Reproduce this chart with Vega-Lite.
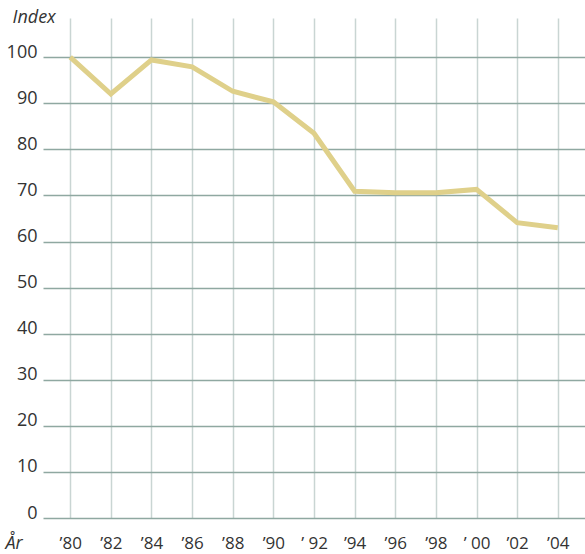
{
  "$schema": "https://vega.github.io/schema/vega-lite/v6.json",
  "width": 542,
  "height": 500,
  "autosize": {"type": "none"},
  "padding": {"left": 43, "top": 18, "right": 0, "bottom": 36},
  "background": "white",
  "config": {"view": {"stroke": null}, "font": "Open Sans"},
  "data": {"values": [
    {"year": 1980, "label": "’80", "index": 100},
    {"year": 1982, "label": "’82", "index": 92.0},
    {"year": 1984, "label": "’84", "index": 99.4},
    {"year": 1986, "label": "’86", "index": 97.9},
    {"year": 1988, "label": "’88", "index": 92.6},
    {"year": 1990, "label": "’90", "index": 90.3},
    {"year": 1992, "label": "’ 92", "index": 83.5},
    {"year": 1994, "label": "’94", "index": 70.9},
    {"year": 1996, "label": "’96", "index": 70.6},
    {"year": 1998, "label": "’98", "index": 70.6},
    {"year": 2000, "label": "’ 00", "index": 71.3},
    {"year": 2002, "label": "’02", "index": 64.1},
    {"year": 2004, "label": "’04", "index": 63.0}
  ]},
  "mark": {"type": "line", "color": "#dfd08a", "strokeWidth": 5, "strokeJoin": "miter"},
  "encoding": {
    "x": {
      "field": "label", "type": "nominal", "sort": null,
      "scale": {"type": "point", "padding": 0.67},
      "axis": {
        "title": "År", "titleFont": "Open Sans", "titleFontStyle": "italic", "titleFontWeight": "normal",
        "titleFontSize": 18, "titleColor": "#333333", "titleAnchor": "start", "titleAlign": "left",
        "titleBaseline": "alphabetic", "titleX": -38, "titleY": 30, "titleAngle": 0,
        "labelAngle": 0, "labelFontSize": 17, "labelColor": "#333333", "labelBaseline": "alphabetic",
        "labelPadding": 30, "ticks": false, "domain": false,
        "grid": true, "gridColor": "#c9d5d3", "gridWidth": 1.5
      }
    },
    "y": {
      "field": "index", "type": "quantitative",
      "scale": {"domain": [0, 108.5], "nice": false, "zero": true},
      "axis": {
        "values": [0, 10, 20, 30, 40, 50, 60, 70, 80, 90, 100],
        "title": "Index", "titleFont": "Open Sans", "titleFontStyle": "italic", "titleFontWeight": "normal",
        "titleFontSize": 18, "titleColor": "#333333", "titleAngle": 0, "titleAlign": "left",
        "titleBaseline": "alphabetic", "titleX": -31, "titleY": 4,
        "labelFontSize": 18, "labelColor": "#333333", "labelBaseline": "alphabetic",
        "labelPadding": 6, "ticks": false, "domain": false,
        "grid": true, "gridColor": "#8fa8a1", "gridWidth": 1.5
      }
    }
  }
}
